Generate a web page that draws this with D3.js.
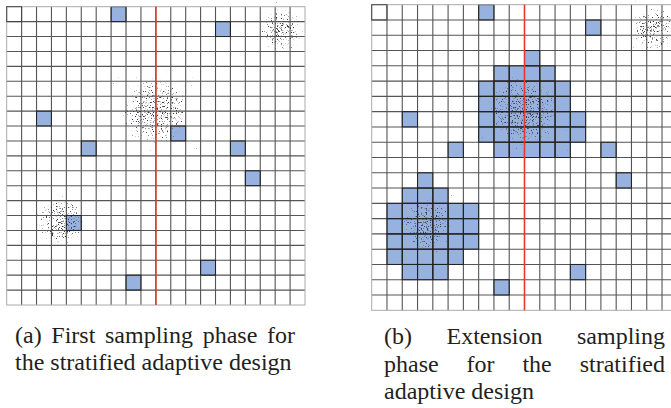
<!DOCTYPE html>
<html>
<head>
<meta charset="utf-8">
<script src="https://cdn.jsdelivr.net/npm/d3@7"></script>
<style>
  html, body { margin: 0; padding: 0; background: #fff; }
  svg { display: block; }
  .cap { font-family: "Liberation Serif", "Times New Roman", Times, serif; }
</style>
</head>
<body>
<svg width="671" height="408"></svg>
<script>
const nCells = 20;

// cells hit in the first sampling phase [col, row]
const sampledCells = [[7,0],[14,1],[2,7],[11,8],[5,9],[15,9],[16,11],[4,14],[13,17],[8,18]];

// cells added in the extension phase, as row runs [row, firstCol, lastCol]
const extensionRuns = [
  [3,10,10],[4,8,11],[5,7,12],[6,7,12],[7,7,13],[8,7,13],[9,8,12],
  [11,3,3],[12,2,4],[13,1,6],[14,1,6],[15,1,6],[16,1,5],[17,2,4]
];

// point clouds: centre [col, row] and radius in cell units
const clusters = [
  {cx: 9.95, cy: 7.0, r: 2.4},
  {cx: 3.6,  cy: 14.4, r: 1.75},
  {cx: 18.45, cy: 1.6, r: 1.55}
];

const captionA = ["(a) First sampling phase for", "the stratified adaptive design"];
const captionB = ["(b) Extension sampling", "phase for the stratified", "adaptive design"];

const svg = d3.select('svg');

// speckle texture for the point clouds
const defs = svg.append('defs');
const grad = defs.append('radialGradient').attr('id', 'fade');
[[0,1],[0.35,0.92],[0.65,0.75],[0.85,0.45],[1,0]].forEach(s => {
  grad.append('stop').attr('offset', s[0]).attr('stop-color', '#fff').attr('stop-opacity', s[1]);
});
const filt = defs.append('filter').attr('id', 'speckle')
  .attr('color-interpolation-filters', 'sRGB');
filt.append('feTurbulence').attr('type', 'fractalNoise')
  .attr('baseFrequency', 0.8).attr('numOctaves', 2).attr('seed', 7).attr('result', 'noise');
filt.append('feColorMatrix').attr('in', 'noise').attr('type', 'matrix')
  .attr('values', '0 0 0 0 0  0 0 0 0 0  0 0 0 0 0  1 0 0 0 0').attr('result', 'na');
filt.append('feComposite').attr('in', 'na').attr('in2', 'SourceAlpha')
  .attr('operator', 'arithmetic')
  .attr('k1', 0).attr('k2', 7).attr('k3', 1.75).attr('k4', -5.55).attr('result', 'dots');
filt.append('feColorMatrix').attr('in', 'dots').attr('type', 'matrix')
  .attr('values', '0 0 0 0 0.25  0 0 0 0 0.25  0 0 0 0 0.28  0 0 0 1 0');

function drawGrid(x0, y0, size, cells) {
  const g = svg.append('g');
  const x = d3.scaleLinear().domain([0, nCells]).range([x0, x0 + size]);
  const y = d3.scaleLinear().domain([0, nCells]).range([y0, y0 + size]);
  const cw = x(1) - x(0);

  g.append('rect')
    .attr('x', x(0)).attr('y', y(0))
    .attr('width', size).attr('height', size)
    .attr('fill', '#fff');

  g.selectAll('rect.cell')
    .data(cells)
    .join('rect')
    .attr('class', 'cell')
    .attr('x', d => x(d[0]))
    .attr('y', d => y(d[1]))
    .attr('width', cw).attr('height', cw)
    .attr('fill', '#97b2df');

  const inner = d3.range(1, nCells);
  g.selectAll('line.v')
    .data(inner)
    .join('line')
    .attr('class', 'v')
    .attr('x1', d => x(d)).attr('x2', d => x(d))
    .attr('y1', y(0)).attr('y2', y(nCells))
    .attr('stroke', '#555').attr('stroke-width', 1.1);
  g.selectAll('line.h')
    .data(inner)
    .join('line')
    .attr('class', 'h')
    .attr('y1', d => y(d)).attr('y2', d => y(d))
    .attr('x1', x(0)).attr('x2', x(nCells))
    .attr('stroke', '#555').attr('stroke-width', 1.1);

  // outline of the sampled cells
  g.selectAll('rect.edge')
    .data(cells)
    .join('rect')
    .attr('class', 'edge')
    .attr('x', d => x(d[0]))
    .attr('y', d => y(d[1]))
    .attr('width', cw).attr('height', cw)
    .attr('fill', 'none')
    .attr('stroke', '#222').attr('stroke-width', 1);

  g.append('rect')
    .attr('x', x(0)).attr('y', y(0))
    .attr('width', size).attr('height', size)
    .attr('fill', 'none').attr('stroke', '#aaa');

  g.append('rect')
    .attr('x', x(0)).attr('y', y(0))
    .attr('width', cw).attr('height', cw)
    .attr('fill', 'none').attr('stroke', '#444');

  g.selectAll('circle.cloud')
    .data(clusters)
    .join('circle')
    .attr('class', 'cloud')
    .attr('cx', d => x(d.cx))
    .attr('cy', d => y(d.cy))
    .attr('r', d => d.r * cw)
    .attr('fill', 'url(#fade)')
    .attr('filter', 'url(#speckle)');

  g.append('line')
    .attr('x1', x(nCells / 2)).attr('x2', x(nCells / 2))
    .attr('y1', y(0)).attr('y2', y(nCells))
    .attr('stroke', '#e8372c').attr('stroke-width', 1.5);
}

function drawCaption(lines, left, right, top, step, justifyCount) {
  lines.forEach((line, i) => {
    const t = svg.append('text')
      .attr('class', 'cap')
      .attr('y', top + i * step)
      .style('font-size', '24px')
      .attr('fill', '#231f20');
    const words = line.split(' ');
    if (i < justifyCount && words.length > 1) {
      const spans = words.map(w => t.append('tspan').text(w));
      const widths = spans.map(s => s.node().getComputedTextLength());
      const gap = (right - left - d3.sum(widths)) / (words.length - 1);
      let cx = left;
      spans.forEach((s, k) => { s.attr('x', cx); cx += widths[k] + gap; });
    } else {
      t.attr('x', left).text(line);
    }
  });
}

const extensionCells = [];
extensionRuns.forEach(r => {
  d3.range(r[1], r[2] + 1).forEach(c => extensionCells.push([c, r[0]]));
});
const key = d => d[0] + ',' + d[1];
const allB = Array.from(new Map(sampledCells.concat(extensionCells).map(d => [key(d), d])).values());

drawGrid(6.7, 6.7, 298.3, sampledCells);
drawGrid(371.7, 4.7, 305.6, allB);

drawCaption(captionA, 15, 295, 343, 27, 1);
drawCaption(captionB, 384, 665, 344, 27.5, 2);
</script>
</body>
</html>
